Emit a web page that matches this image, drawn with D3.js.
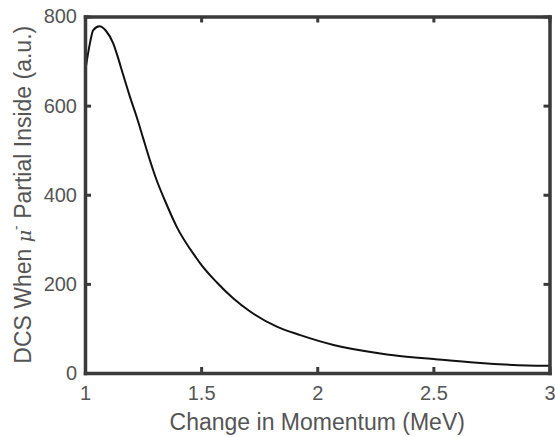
<!DOCTYPE html>
<html>
<head>
<meta charset="utf-8">
<script src="https://cdn.jsdelivr.net/npm/d3@7"></script>
<style>
  body { margin: 0; background: #fff; }
  svg { display: block; font-family: "Liberation Sans", Arial, sans-serif; }
</style>
</head>
<body>
<svg id="chart" width="555" height="437"></svg>
<script>
// Data
const momentum = [1.002, 1.022, 1.035, 1.062, 1.09, 1.122, 1.137, 1.165, 1.194, 1.223, 1.251, 1.266, 1.309, 1.345, 1.395, 1.481, 1.496, 1.568, 1.639, 1.711, 1.826, 1.927, 2.070, 2.272, 2.329, 2.509, 2.688, 2.904, 3.0];
const dcs =      [681,   742,   769,   778,   768,  739,   716,   668,   619,   574,   526,   500,   432,   386,   328,   257,   246,   203,   167,   138,   104,   85,    63,    44,    40,    31,    23,    17,    16];
const xTicks = [1, 1.5, 2, 2.5, 3];
const yTicks = [0, 200, 400, 600, 800];
const xLabel = "Change in Momentum (MeV)";

const svg = d3.select("#chart");
const mLeft = 85, mRight = 549.5, mTop = 16.5, mBottom = 373;
const x = d3.scaleLinear().domain([1, 3]).range([mLeft, mRight]);
const y = d3.scaleLinear().domain([0, 800]).range([mBottom, mTop]);

const axisColor = "#3a3a3a";
const textColor = "#555555";

// curve
svg.append("path")
  .datum(momentum.map((m, i) => [m, dcs[i]]))
  .attr("fill", "none")
  .attr("stroke", "#111")
  .attr("stroke-width", 2)
  .attr("d", d3.line().x(d => x(d[0])).y(d => y(d[1])).curve(d3.curveMonotoneX));

// axes (inward ticks, box)
function styleAxis(g) {
  g.select(".domain").attr("stroke", axisColor).attr("stroke-width", 3.5);
  g.selectAll(".tick line").attr("stroke", axisColor).attr("stroke-width", 3);
  g.selectAll(".tick text").attr("fill", textColor).attr("font-size", 20)
    .attr("font-family", "Liberation Sans, Arial, sans-serif");
}
const fmt = d3.format("");
svg.append("g").attr("transform", `translate(0,${mBottom})`)
  .call(d3.axisBottom(x).tickValues(xTicks).tickFormat(fmt).tickSizeInner(-6).tickSizeOuter(0).tickPadding(13))
  .call(styleAxis);
svg.append("g").attr("transform", `translate(0,${mTop})`)
  .call(d3.axisTop(x).tickValues(xTicks).tickFormat("").tickSizeInner(-6).tickSizeOuter(0))
  .call(styleAxis);
svg.append("g").attr("transform", `translate(${mLeft},0)`)
  .call(d3.axisLeft(y).tickValues(yTicks).tickSizeInner(-6).tickSizeOuter(0).tickPadding(8))
  .call(styleAxis);
svg.append("g").attr("transform", `translate(${mRight},0)`)
  .call(d3.axisRight(y).tickValues(yTicks).tickFormat("").tickSizeInner(-6).tickSizeOuter(0))
  .call(styleAxis);
svg.selectAll(".domain").attr("stroke-linecap", "square");

// x label
svg.append("text")
  .attr("x", (mLeft + mRight) / 2).attr("y", 430)
  .attr("text-anchor", "middle")
  .attr("fill", textColor).attr("font-size", 23)
  .text(xLabel);

// y label
const yl = svg.append("text")
  .attr("transform", `translate(31,${(mTop + mBottom) / 2}) rotate(-90)`)
  .attr("text-anchor", "middle")
  .attr("fill", textColor).attr("font-size", 23);
yl.append("tspan").text("DCS When ");
yl.append("tspan").attr("font-style", "italic").attr("font-family", "DejaVu Serif, serif").attr("font-size", 19).text("μ");
yl.append("tspan").attr("dy", -10).attr("font-size", 14).text("-");
yl.append("tspan").attr("dy", 10).text(" Partial Inside (a.u.)");
</script>
</body>
</html>
